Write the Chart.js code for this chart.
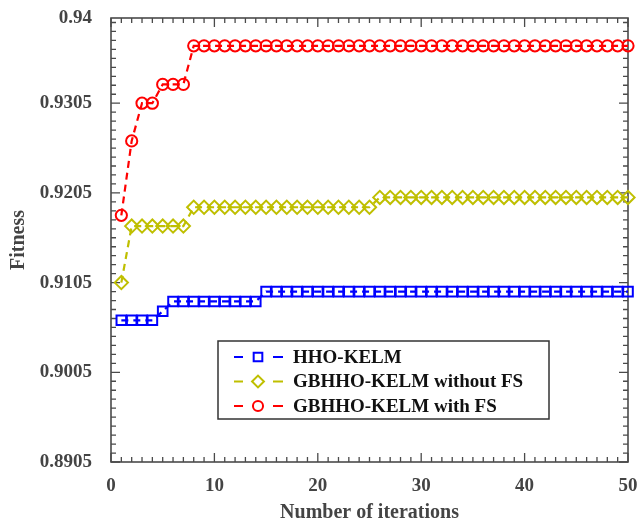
<!DOCTYPE html>
<html>
<head>
<meta charset="utf-8">
<script src="https://cdn.jsdelivr.net/npm/chart.js@4/dist/chart.umd.min.js"></script>
<style>
  html, body { margin: 0; padding: 0; background: #fff; }
  #wrap { width: 641px; height: 525px; }
</style>
</head>
<body>
<div id="wrap"><canvas id="chart" width="641" height="525"></canvas></div>
<script>
// ---------- data ----------
const iterations = [
  1, 2, 3, 4, 5, 6, 7, 8, 9, 10,
  11, 12, 13, 14, 15, 16, 17, 18, 19, 20,
  21, 22, 23, 24, 25, 26, 27, 28, 29, 30,
  31, 32, 33, 34, 35, 36, 37, 38, 39, 40,
  41, 42, 43, 44, 45, 46, 47, 48, 49, 50,
];

const hhoKelm = [
  0.9063, 0.9063, 0.9063, 0.9063, 0.9073, 0.9084, 0.9084, 0.9084, 0.9084, 0.9084,
  0.9084, 0.9084, 0.9084, 0.9084, 0.9095, 0.9095, 0.9095, 0.9095, 0.9095, 0.9095,
  0.9095, 0.9095, 0.9095, 0.9095, 0.9095, 0.9095, 0.9095, 0.9095, 0.9095, 0.9095,
  0.9095, 0.9095, 0.9095, 0.9095, 0.9095, 0.9095, 0.9095, 0.9095, 0.9095, 0.9095,
  0.9095, 0.9095, 0.9095, 0.9095, 0.9095, 0.9095, 0.9095, 0.9095, 0.9095, 0.9095,
];

const gbhhoNoFs = [
  0.9105, 0.9168, 0.9168, 0.9168, 0.9168, 0.9168, 0.9168, 0.9189, 0.9189, 0.9189,
  0.9189, 0.9189, 0.9189, 0.9189, 0.9189, 0.9189, 0.9189, 0.9189, 0.9189, 0.9189,
  0.9189, 0.9189, 0.9189, 0.9189, 0.9189, 0.9200, 0.9200, 0.9200, 0.9200, 0.9200,
  0.9200, 0.9200, 0.9200, 0.9200, 0.9200, 0.9200, 0.9200, 0.9200, 0.9200, 0.9200,
  0.9200, 0.9200, 0.9200, 0.9200, 0.9200, 0.9200, 0.9200, 0.9200, 0.9200, 0.9200,
];

const gbhhoFs = [
  0.9180, 0.9263, 0.9305, 0.9305, 0.9326, 0.9326, 0.9326, 0.9369, 0.9369, 0.9369,
  0.9369, 0.9369, 0.9369, 0.9369, 0.9369, 0.9369, 0.9369, 0.9369, 0.9369, 0.9369,
  0.9369, 0.9369, 0.9369, 0.9369, 0.9369, 0.9369, 0.9369, 0.9369, 0.9369, 0.9369,
  0.9369, 0.9369, 0.9369, 0.9369, 0.9369, 0.9369, 0.9369, 0.9369, 0.9369, 0.9369,
  0.9369, 0.9369, 0.9369, 0.9369, 0.9369, 0.9369, 0.9369, 0.9369, 0.9369, 0.9369,
];

const seriesNames = ["HHO-KELM", "GBHHO-KELM without FS", "GBHHO-KELM with FS"];
const yTicks = [0.8905, 0.9005, 0.9105, 0.9205, 0.9305, 0.94];
const yTickLabels = ["0.8905", "0.9005", "0.9105", "0.9205", "0.9305", "0.94"];
const xTicks = [0, 10, 20, 30, 40, 50];

// ---------- styling ----------
const AXIS_TEXT = "#444";
const BOX_COLOR = "#4a4a4a";
const SERIF = "'Liberation Serif', 'Times New Roman', serif";
const DASH = [7, 5];

const STYLES = [
  { color: "#0000ff", pointStyle: "rect",    radius: 6.8 },
  { color: "#bfbf00", pointStyle: "rectRot", radius: 6.6 },
  { color: "#ff0000", pointStyle: "circle",  radius: 5.6 },
];

const toPoints = (vals) => iterations.map((x, i) => ({ x, y: vals[i] }));

const datasets = [hhoKelm, gbhhoNoFs, gbhhoFs].map((vals, i) => ({
  label: seriesNames[i],
  data: toPoints(vals),
  borderColor: STYLES[i].color,
  borderWidth: 2.2,
  borderDash: DASH,
  pointStyle: STYLES[i].pointStyle,
  pointRadius: STYLES[i].radius,
  pointBorderWidth: 2,
  pointBorderColor: STYLES[i].color,
  pointBackgroundColor: "rgba(0,0,0,0)",
  tension: 0,
  clip: false,
}));

// ---------- box + inward ticks (matlab look) ----------
const boxTicks = {
  id: "boxTicks",
  beforeDatasetsDraw(chart) {
    const { ctx, chartArea: a, scales: { x, y } } = chart;
    ctx.save();
    ctx.strokeStyle = BOX_COLOR;
    ctx.lineWidth = 1.3;
    ctx.beginPath();
    // x: minor every 1, major every 10
    for (let v = 0; v <= 50; v++) {
      const px = x.getPixelForValue(v);
      const len = v % 10 === 0 ? 9 : 5;
      ctx.moveTo(px, a.bottom); ctx.lineTo(px, a.bottom - len);
      ctx.moveTo(px, a.top);    ctx.lineTo(px, a.top + len);
    }
    // y: minor every 0.001 from 0.8905
    for (let k = 0; k <= 49; k++) {
      const v = 0.8905 + k * 0.001;
      const py = y.getPixelForValue(v);
      const len = k % 10 === 0 ? 9 : 5;
      ctx.moveTo(a.left, py);  ctx.lineTo(a.left + len, py);
      ctx.moveTo(a.right, py); ctx.lineTo(a.right - len, py);
    }
    ctx.stroke();
    ctx.lineWidth = 1.6;
    ctx.strokeRect(a.left, a.top, a.right - a.left, a.bottom - a.top);
    ctx.restore();
  },
};

// ---------- legend box with dash-marker-dash samples ----------
const boxLegend = {
  id: "boxLegend",
  afterDraw(chart) {
    const { ctx } = chart;
    const bx = 218, by = 341, bw = 331, bh = 78;
    ctx.save();
    ctx.fillStyle = "#fff";
    ctx.fillRect(bx, by, bw, bh);
    ctx.strokeStyle = "#333";
    ctx.lineWidth = 1.5;
    ctx.strokeRect(bx, by, bw, bh);

    ctx.font = `bold 19px ${SERIF}`;
    ctx.textBaseline = "middle";
    chart.data.datasets.forEach((ds, i) => {
      const cy = by + 16 + i * 24.5;
      ctx.strokeStyle = ds.borderColor;
      ctx.lineWidth = 2.2;
      ctx.beginPath();
      ctx.moveTo(234, cy); ctx.lineTo(243, cy);
      ctx.moveTo(273, cy); ctx.lineTo(283, cy);
      ctx.stroke();
      ctx.fillStyle = "rgba(0,0,0,0)";
      ctx.strokeStyle = ds.borderColor;
      ctx.lineWidth = ds.pointBorderWidth;
      Chart.helpers.drawPoint(ctx, {
        pointStyle: ds.pointStyle,
        radius: ds.pointRadius * 0.9,
        borderWidth: ds.pointBorderWidth,
        rotation: 0,
      }, 258, cy);
      ctx.fillStyle = "#111";
      ctx.fillText(ds.label, 293, cy + 1);
    });
    ctx.restore();
  },
};

// ---------- chart ----------
new Chart(document.getElementById("chart"), {
  type: "line",
  data: { datasets },
  plugins: [boxTicks, boxLegend],
  options: {
    responsive: false,
    animation: false,
    layout: { padding: { top: 18, right: 13, left: 0, bottom: 0 } },
    plugins: { legend: { display: false }, tooltip: { enabled: false } },
    scales: {
      x: {
        type: "linear",
        min: 0,
        max: 50,
        afterBuildTicks: (s) => { s.ticks = xTicks.map((v) => ({ value: v })); },
        afterFit: (s) => {
          s.height = 63;
          s.paddingLeft = 0; s.paddingRight = 0;
        },
        grid: { display: false, drawTicks: false },
        border: { display: false },
        ticks: {
          maxRotation: 0,
          padding: 13,
          color: AXIS_TEXT,
          font: { family: SERIF, size: 19, weight: "bold" },
        },
        title: {
          display: true,
          text: "Number of iterations",
          color: AXIS_TEXT,
          padding: { top: 0, bottom: 0 },
          font: { family: SERIF, size: 20, weight: "bold" },
        },
      },
      y: {
        min: 0.8905,
        max: 0.94,
        afterBuildTicks: (s) => { s.ticks = yTicks.map((v) => ({ value: v })); },
        afterFit: (s) => {
          s.width = 111;
          s.paddingTop = 0; s.paddingBottom = 0;
        },
        grid: { display: false, drawTicks: false },
        border: { display: false },
        ticks: {
          padding: 19,
          color: AXIS_TEXT,
          font: { family: SERIF, size: 19, weight: "bold" },
          callback: (v, i) => yTickLabels[i],
        },
        title: {
          display: true,
          text: "Fitness",
          color: AXIS_TEXT,
          padding: { top: 7, bottom: 0 },
          font: { family: SERIF, size: 20, weight: "bold" },
        },
      },
    },
  },
});
</script>
</body>
</html>
